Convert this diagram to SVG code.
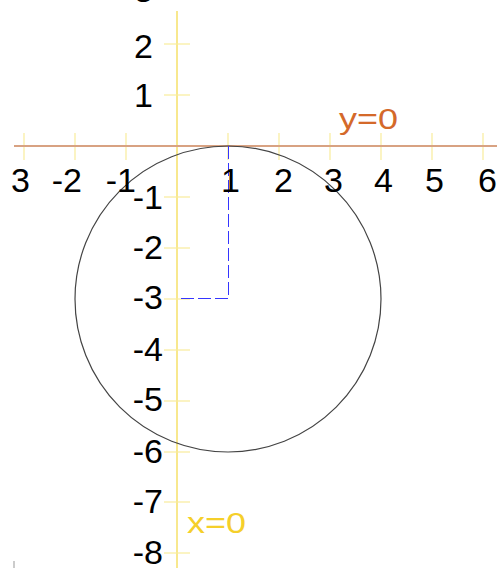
<svg xmlns="http://www.w3.org/2000/svg" width="497" height="568" viewBox="0 0 497 568">
<style>
.num{font-family:"Liberation Sans",Arial,sans-serif;font-size:34px;fill:#000}
.tick{stroke:#f9ec9b;stroke-width:1.2}
.lbl{font-family:"Liberation Sans",Arial,sans-serif;font-size:29px}
</style>
<rect width="497" height="568" fill="#fff"/>
<g id="axes">
<line x1="177" y1="11" x2="177" y2="568" stroke="#f8e88e" stroke-width="2"/>
<g class="tick">
<line x1="164" y1="44" x2="190" y2="44"/>
<line x1="164" y1="95" x2="190" y2="95"/>
<line x1="164" y1="197" x2="190" y2="197"/>
<line x1="164" y1="248" x2="190" y2="248"/>
<line x1="164" y1="299" x2="190" y2="299"/>
<line x1="164" y1="350" x2="190" y2="350"/>
<line x1="164" y1="401" x2="190" y2="401"/>
<line x1="164" y1="452" x2="190" y2="452"/>
<line x1="164" y1="502" x2="190" y2="502"/>
<line x1="164" y1="553" x2="190" y2="553"/>
<line x1="24" y1="133" x2="24" y2="160"/>
<line x1="75" y1="133" x2="75" y2="160"/>
<line x1="126" y1="133" x2="126" y2="160"/>
<line x1="228" y1="133" x2="228" y2="160"/>
<line x1="279" y1="133" x2="279" y2="160"/>
<line x1="330" y1="133" x2="330" y2="160"/>
<line x1="381" y1="133" x2="381" y2="160"/>
<line x1="432" y1="133" x2="432" y2="160"/>
<line x1="483" y1="133" x2="483" y2="160"/>
</g>
<line x1="14" y1="146" x2="497" y2="146" stroke="#d8a282" stroke-width="2"/>
<line x1="14" y1="561" x2="14" y2="568" stroke="#999" stroke-width="1"/>
</g>
<g id="circle">
<circle cx="228" cy="299" r="153" fill="none" stroke="#444" stroke-width="1.2"/>
</g>
<g id="connectors">
<path d="M228.5,146 V298.5 H177" fill="none" stroke="#3535ff" stroke-width="1" stroke-dasharray="13 4"/>
</g>
<g id="labels" class="num">
<text x="153" y="2" text-anchor="end">3</text>
<text x="153" y="58" text-anchor="end">2</text>
<text x="153" y="107" text-anchor="end">1</text>
<text x="163" y="209" text-anchor="end">-1</text>
<text x="163" y="259" text-anchor="end">-2</text>
<text x="163" y="309" text-anchor="end">-3</text>
<text x="163" y="361" text-anchor="end">-4</text>
<text x="163" y="411" text-anchor="end">-5</text>
<text x="163" y="463" text-anchor="end">-6</text>
<text x="163" y="513" text-anchor="end">-7</text>
<text x="163" y="564" text-anchor="end">-8</text>
<text x="30" y="192" text-anchor="end">3</text>
<text x="82" y="192" text-anchor="end">-2</text>
<text x="136" y="192" text-anchor="end">-1</text>
<text x="240" y="192" text-anchor="end">1</text>
<text x="293" y="192" text-anchor="end">2</text>
<text x="343" y="192" text-anchor="end">3</text>
<text x="393" y="192" text-anchor="end">4</text>
<text x="444" y="192" text-anchor="end">5</text>
<text x="497" y="192" text-anchor="end">6</text>
</g>
<g id="y0">
<text class="lbl" x="339" y="129" fill="#d4692a" textLength="59" lengthAdjust="spacingAndGlyphs">y=0</text>
</g>
<g id="x0">
<text class="lbl" x="187" y="533" fill="#f5cf2a" textLength="59" lengthAdjust="spacingAndGlyphs">x=0</text>
</g>
</svg>
